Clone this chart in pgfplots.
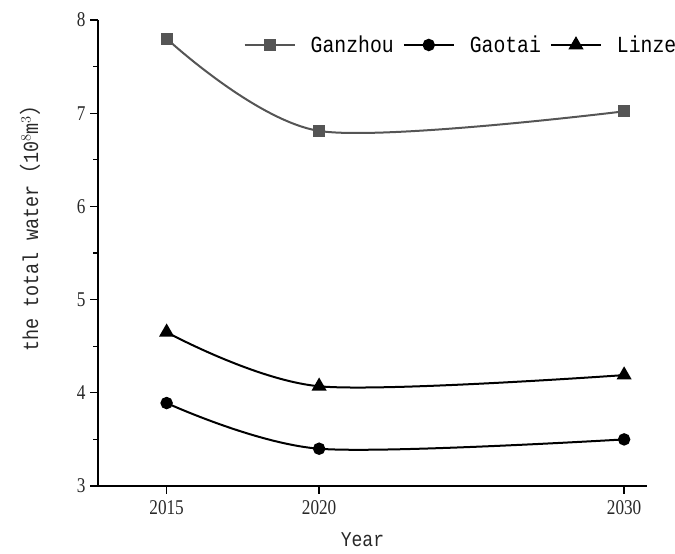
\documentclass[border=0pt]{standalone}
\usepackage{pgfplots}
\pgfplotsset{compat=1.18}
\usepackage{fontspec}
\setmainfont{Liberation Serif}
\newfontfamily\tickfont[FakeStretch=0.82]{Liberation Serif}
\newfontfamily\monofont[FakeStretch=0.86]{Liberation Mono}
\newfontfamily\cjk{Noto Sans CJK SC}
\definecolor{gz}{RGB}{85,85,85}
\definecolor{tk}{RGB}{40,40,40}
\begin{document}
\begin{tikzpicture}
\useasboundingbox (-98pt,-68pt) rectangle (577pt,486pt);
\begin{axis}[
  at={(0,0)}, anchor=south west,
  scale only axis,
  width=549pt, height=466pt,
  xmin=2012.75, xmax=2030.75,
  ymin=3, ymax=8,
  axis x line*=bottom, axis y line*=left,
  axis line style={line width=1.3pt, -},
  xtick={2015,2020,2030},
  ytick={3,4,5,6,7,8},
  minor y tick num=1,
  tick align=outside,
  major tick length=8pt, minor tick length=5pt,
  tick style={line width=1.3pt, black},
  xticklabel style={font=\tickfont\fontsize{21}{24}\selectfont, text=tk, yshift=-3pt},
  yticklabel style={font=\tickfont\fontsize{21}{24}\selectfont, text=tk, xshift=-1pt},
  /pgf/number format/assume math mode=true,
  x tick label style={/pgf/number format/1000 sep={}},
  xlabel={\monofont\fontsize{21}{24}\selectfont Year},
  ylabel={\monofont\fontsize{21.5}{24}\selectfont the total water{\cjk（}10$^{8}$m$^{3}${\cjk）}},
  every axis x label/.style={at={(axis description cs:0.5,0)}, xshift=-10pt, yshift=-54pt, anchor=center, text=tk},
  every axis y label/.style={at={(axis description cs:0,0.5)}, xshift=-68pt, yshift=30pt, rotate=90, anchor=center, text=tk},
  legend columns=3,
  legend style={draw=white, fill=white, at={(axis description cs:0.265,0.9464)}, anchor=west,
    font=\monofont\fontsize{23}{26}\selectfont, inner xsep=0pt,
    /tikz/every odd column/.append style={column sep=13pt},
    /tikz/every even column/.append style={column sep=7pt}},
  legend image code/.code={\draw[#1, mark repeat=2, mark phase=2] plot coordinates {(0pt,0pt) (25pt,0pt) (50pt,0pt)};},
  legend cell align=left,
]
\addplot[gz, line width=2pt, smooth, mark=square*, mark size=5pt, mark options={solid}]
  coordinates {(2015,7.80) (2020,6.81) (2030,7.02)};
\addlegendentry{Ganzhou}
\addplot[black, line width=2pt, smooth, mark=*, mark size=5.2pt]
  coordinates {(2015,3.89) (2020,3.40) (2030,3.50)};
\addlegendentry{Gaotai}
\addplot[black, line width=2pt, smooth, mark=triangle*, mark size=6.8pt]
  coordinates {(2015,4.65) (2020,4.07) (2030,4.19)};
\addlegendentry{Linze}
\end{axis}
\end{tikzpicture}
\end{document}
